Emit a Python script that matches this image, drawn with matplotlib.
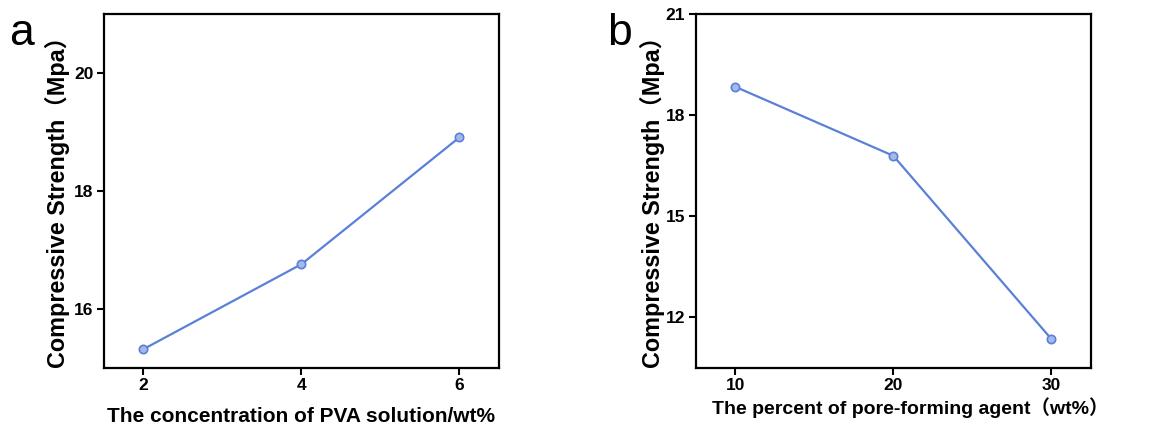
import matplotlib
matplotlib.use('Agg')
import matplotlib.pyplot as plt

# PVA concentration series
pva_conc = [2, 4, 6]
pva_strength = [15.32, 16.76, 18.91]

# pore-forming agent series
pore_pct = [10, 20, 30]
pore_strength = [18.84, 16.79, 11.35]

plt.rcParams['font.family'] = ['Liberation Sans', 'Noto Sans CJK SC', 'DejaVu Sans']

LINE_COLOR = '#5b80d8'
FACE_COLOR = '#a3b9ec'


def style_axes(ax):
    for side in ax.spines.values():
        side.set_linewidth(1.6)
    ax.tick_params(direction='out', length=5, width=1.5, labelsize=12.5,
                   top=False, right=False, pad=2.5)
    for lab in ax.get_xticklabels() + ax.get_yticklabels():
        lab.set_fontweight('bold')


fig = plt.figure(figsize=(11.58, 4.32), dpi=100)

# panel a
ax1 = fig.add_axes([0.0898, 0.1481, 0.3411, 0.8195])
ax1.plot(pva_conc, pva_strength, '-o', color=LINE_COLOR, lw=1.6,
         ms=6, mfc=FACE_COLOR, mec=LINE_COLOR, mew=1.2)
ax1.set_xlim(1.5, 6.5)
ax1.set_ylim(15, 21)
ax1.set_xticks([2, 4, 6])
ax1.set_yticks([16, 18, 20])
style_axes(ax1)
ax1.set_ylabel('Compressive Strength（Mpa）', fontsize=16.8, fontweight='bold', va='center')
ax1.yaxis.set_label_coords(-0.119, 0.484)
ax1.set_xlabel('The concentration of PVA solution/wt%', fontsize=15, fontweight='bold', va='center')
ax1.xaxis.set_label_coords(0.499, -0.138)
fig.text(0.008, 0.895, 'a', fontsize=32)

# panel b
ax2 = fig.add_axes([0.6008, 0.1488, 0.3413, 0.8188])
ax2.plot(pore_pct, pore_strength, '-o', color=LINE_COLOR, lw=1.6,
         ms=6, mfc=FACE_COLOR, mec=LINE_COLOR, mew=1.2)
ax2.set_xlim(7.5, 32.5)
ax2.set_ylim(10.5, 21)
ax2.set_xticks([10, 20, 30])
ax2.set_yticks([12, 15, 18, 21])
style_axes(ax2)
ax2.set_ylabel('Compressive Strength（Mpa）', fontsize=16.8, fontweight='bold', va='center')
ax2.yaxis.set_label_coords(-0.11, 0.485)
ax2.set_xlabel('The percent of pore-forming agent（wt%）', fontsize=14, fontweight='bold', va='center')
ax2.xaxis.set_label_coords(0.544, -0.114)
fig.text(0.524, 0.895, 'b', fontsize=32)

fig.savefig('out.png', dpi=100)
